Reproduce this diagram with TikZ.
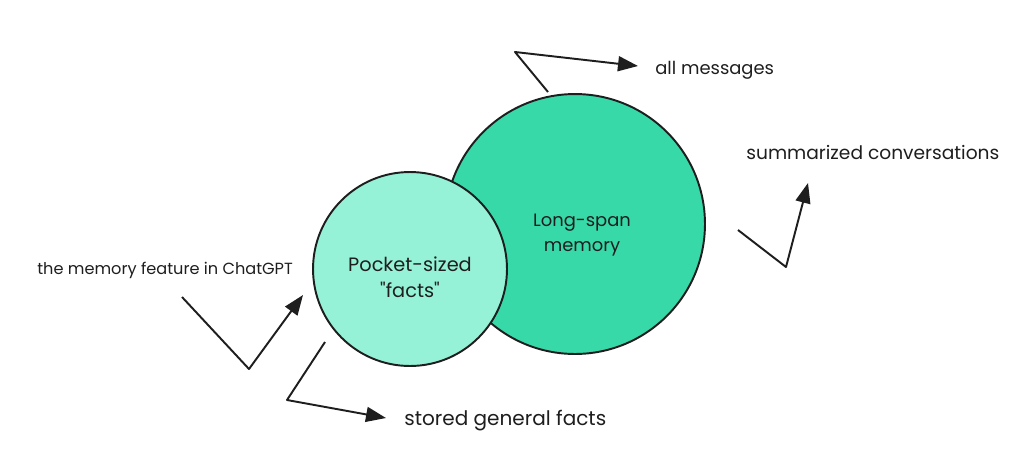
\documentclass[tikz,border=0pt]{standalone}
\usepackage{fontspec}
\setmainfont{Poppins}
\usetikzlibrary{arrows.meta}
\definecolor{ink}{HTML}{1E1E1E}
\definecolor{longfill}{HTML}{38D9A9}
\definecolor{factfill}{HTML}{96F2D7}
\newcommand{\bubble}[7]{\node[circle, draw=ink, line width=1.1pt, fill=#4, minimum size=#3, inner sep=0pt] (#1) at #2 {};
  \node[align=center, inner sep=0pt, text=ink, font=\fontsize{#7}{14.5}\selectfont] (#1text) at ([shift={#6}]#1.center) {#5};}
\newcommand{\tag}[4]{\node[anchor=west, inner sep=0pt, text=ink, font=\fontsize{#4}{14}\selectfont] (#1) at #2 {#3};}
\newcommand{\pointer}[3]{\draw[ink, line width=1.1pt, line join=round, -{Triangle[length=0.4cm, width=0.3cm]}] (#1) -- (#2) -- (#3);}

\begin{document}
\begin{tikzpicture}[x=0.02cm, y=-0.02cm]
            \useasboundingbox (0,0) rectangle (1024,471);
            % circles
            \bubble{long}{(575,224)}{5.2cm}{longfill}{Long-span\\memory}{(7,11)}{10.2}
            \bubble{facts}{(410,269)}{3.88cm}{factfill}{Pocket-sized\\\textquotedbl facts\textquotedbl}{(0,8)}{11}
            % labels
            \tag{msg}{(655,70)}{all messages}{10.2}
            \tag{summ}{(746,152)}{summarized conversations}{10.6}
            \tag{feat}{(37,270)}{the memory feature in ChatGPT}{9.2}
            \tag{stored}{(404,421)}{stored general facts}{11.4}
            % top
            \coordinate (msgA) at (548,92);
            \coordinate (msgB) at (515,52);
            \coordinate (msgC) at (638,66);
            \pointer{msgA}{msgB}{msgC}
            % right
            \coordinate (summA) at (738,230);
            \coordinate (summB) at (786,267);
            \coordinate (summC) at (808,183);
            \pointer{summA}{summB}{summC}
            % left
            \coordinate (featA) at (182,297);
            \coordinate (featB) at (249,369);
            \coordinate (featC) at (303,295);
            \pointer{featA}{featB}{featC}
            % bottom
            \coordinate (storedA) at (325,342);
            \coordinate (storedB) at (287,400);
            \coordinate (storedC) at (386,418);
            \pointer{storedA}{storedB}{storedC}
        \end{tikzpicture}
\end{document}
